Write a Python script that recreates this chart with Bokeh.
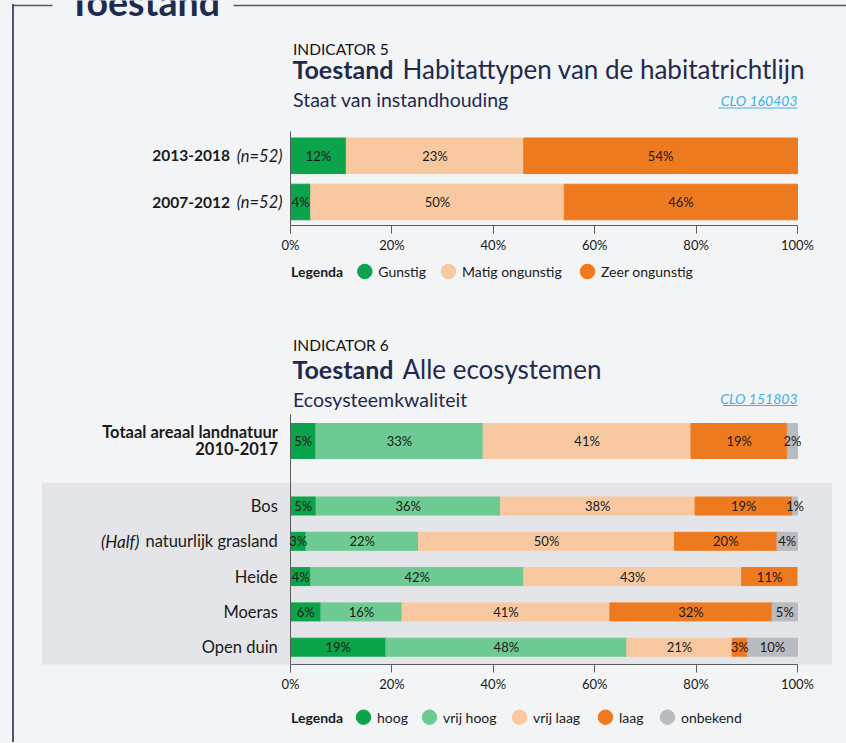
from bokeh.plotting import figure
from bokeh.models import Range1d, FixedTicker, PrintfTickFormatter, ColumnDataSource
from bokeh.layouts import column
from bokeh.core.properties import value
from bokeh.embed import file_html
from bokeh.resources import INLINE

# ---------------- data ----------------
pct_ticks = [0, 20, 40, 60, 80, 100]

# Indicator 5
periods = ["2013-2018", "2007-2012"]
period_n = ["(n=52)", "(n=52)"]
states = ["Gunstig", "Matig ongunstig", "Zeer ongunstig"]
gunstig = [11, 4]
matig_ongunstig = [35, 50]
zeer_ongunstig = [54, 46]
printed_gunstig = ["12%", "4%"]
printed_matig = ["23%", "50%"]
printed_zeer = ["54%", "46%"]

# Indicator 6
areas = ["Totaal areaal landnatuur\n2010-2017", "Bos", "(Half) natuurlijk grasland",
         "Heide", "Moeras", "Open duin"]
qualities = ["hoog", "vrij hoog", "vrij laag", "laag", "onbekend"]
hoog = [5, 5, 3, 4, 6, 19]
vrij_hoog = [33, 36, 22, 42, 16, 48]
vrij_laag = [41, 38, 50, 43, 41, 21]
laag = [19, 19, 20, 11, 32, 3]
onbekend = [2, 1, 4, 0, 5, 10]

# ---------------- styles ----------------
BG = "#f3f4f6"
BOX = "#e4e5e8"
NAVY = "#1f2a4f"
INK = "#1a1a1a"
FRAME = "#4d5473"
LINK = "#3fb0e6"
AXIS = "#5c5c5c"
COL1 = ["#0ca44b", "#f8c9a1", "#ee7a1f"]
COL2 = ["#0ca44b", "#6dca93", "#f8c9a1", "#ee7a1f", "#b8bbc0"]
FONT = "Lato"
MID = 0.37   # distance baseline -> text middle, in em

# ---------------- layout (page pixels) ----------------
OX = 0
W = 846
P0, P100 = 290.0, 797.0
SCALE = (P100 - P0) / 100.0
A_TOP, A_FRAME, A_BOT = 0, 225, 30
B_TOP, B_FRAME, B_BOT = 255, 409, 30
C_TOP, C_FRAME = 694, 48


def make_fig(top, frame_h, bottom_h, row0=None, step=None):
    x_rng = Range1d((OX - P0) / SCALE, (OX + W - P0) / SCALE)
    if step:
        y_rng = Range1d((top + frame_h - row0) / step, (top - row0) / step)
    else:
        y_rng = Range1d(top + frame_h, top)
    p = figure(width=W, height=frame_h + bottom_h, x_range=x_rng, y_range=y_rng,
               output_backend="svg", toolbar_location=None,
               x_axis_location="below" if bottom_h else None, y_axis_location=None,
               min_border=0, min_border_bottom=bottom_h,
               background_fill_color=None, border_fill_color=None,
               outline_line_color=None)
    p.extra_x_ranges = {"px": Range1d(OX, OX + W)}
    p.extra_y_ranges = {"px": Range1d(top + frame_h, top)}
    p.grid.visible = False
    if bottom_h:
        ax = p.xaxis[0]
        ax.bounds = (0, 100)
        ax.ticker = FixedTicker(ticks=pct_ticks)
        ax.formatter = PrintfTickFormatter(format="%d%%")
        ax.axis_line_color = AXIS
        ax.major_tick_line_color = AXIS
        ax.major_tick_out = 8
        ax.major_tick_in = 0
        ax.minor_tick_line_color = None
        ax.major_label_text_font = FONT
        ax.major_label_text_font_size = "13px"
        ax.major_label_text_color = INK
        ax.major_label_standoff = 3
    return p


def put(p, x, y, s, size, style="normal", color=INK, align="left",
        base="alphabetic", xr="px", yr="px"):
    if base == "alphabetic":
        y = y - MID * size
    p.text(x=[x], y=[y], text=[s], x_range_name=xr, y_range_name=yr,
           text_font=value(FONT), text_font_size=f"{size}px", text_font_style=style,
           text_color=color, text_align=align, text_baseline="middle")


def header(p, ind, bold, rest, sub, link, y_ind, y_title, y_sub, y_link, link_w):
    put(p, 292.5, y_ind, ind, 15.5, color="#111111")
    put(p, 292, y_title, bold, 25, style="bold", color=NAVY)
    put(p, 402, y_title, rest, 26, color=NAVY)
    put(p, 292.5, y_sub, sub, 19.5, color=NAVY)
    put(p, P100, y_link, link, 14, style="italic", color=LINK, align="right")
    p.segment(x0=[P100 - link_w], y0=[y_link + 2], x1=[P100], y1=[y_link + 2],
              x_range_name="px", y_range_name="px", line_color=LINK, line_width=1)


def legend(p, y, names, colors, cxs):
    put(p, 290.5, y, "Legenda", 14, style="bold", base="middle")
    p.scatter(x=cxs, y=[y] * len(cxs), size=14.5, color=colors, marker="circle",
              x_range_name="px", y_range_name="px")
    for cx, n in zip(cxs, names):
        put(p, cx + 13.5, y, n, 14, base="middle")


def bar_labels(p, rows, value_rows, label_rows):
    xs, ys, ts = [], [], []
    for r, vals, labs in zip(rows, value_rows, label_rows):
        left = 0.0
        for v, lab in zip(vals, labs):
            if v > 0:
                xs.append(left + v / 2.0)
                ys.append(r)
                ts.append(lab)
            left += v
    p.text(x=xs, y=ys, text=ts, text_font=value(FONT), text_font_size="13px",
           text_color=INK, text_align="center", text_baseline="middle")


# ---------------- figure A: frame title + indicator 5 ----------------
ROW1_0, ROW1_STEP = 155.3, 46.2
pA = make_fig(A_TOP, A_FRAME, A_BOT, ROW1_0, ROW1_STEP)
pA.segment(x0=[12.25, 233], y0=[5, 5], x1=[52, OX + W], y1=[5, 5],
           x_range_name="px", y_range_name="px", line_color=FRAME, line_width=1.5)
put(pA, 68, 15, "Toestand", 37.5, style="bold", color=NAVY)
header(pA, "INDICATOR 5", "Toestand", "Habitattypen van de habitatrichtlijn",
       "Staat van instandhouding", "CLO 160403", 54, 77.7, 106.7, 105.5, 79)

rows1 = list(range(len(periods)))
src1 = ColumnDataSource(dict(row=rows1, **{states[0]: gunstig, states[1]: matig_ongunstig,
                                          states[2]: zeer_ongunstig}))
pA.hbar_stack(states, y="row", height=0.77, color=COL1, source=src1)
pA.segment(x0=[0], y0=[131], x1=[0], y1=[225], y_range_name="px",
           line_color=AXIS, line_width=1)
bar_labels(pA, rows1, list(zip(gunstig, matig_ongunstig, zeer_ongunstig)),
           list(zip(printed_gunstig, printed_matig, printed_zeer)))
for r, per, n in zip(rows1, periods, period_n):
    put(pA, 282, r, n, 16.5, style="italic", align="right", base="middle", yr="default")
    put(pA, 229.5, r, per, 15.5, style="bold", align="right", base="middle", yr="default")

# ---------------- figure B: legend 5 + indicator 6 ----------------
ROW2_0, ROW2_STEP = 505.5, 35.3
TOTAL_ROW = (440.5 - ROW2_0) / ROW2_STEP
pB = make_fig(B_TOP, B_FRAME, B_BOT, ROW2_0, ROW2_STEP)
legend(pB, 271, states, COL1, [364.3, 448, 587])
header(pB, "INDICATOR 6", "Toestand", "Alle ecosystemen", "Ecosysteemkwaliteit",
       "CLO 151803", 350.7, 377.7, 406, 403, 74.5)
pB.quad(left=[42], right=[831], top=[482.7], bottom=[666], x_range_name="px",
        y_range_name="px", color=BOX)

raw2 = list(zip(hoog, vrij_hoog, vrij_laag, laag, onbekend))
norm2 = [[v * 100.0 / sum(r) for v in r] for r in raw2]
rows2 = [TOTAL_ROW] + list(range(len(areas) - 1))
heights2 = [0.99] + [0.51] * (len(areas) - 1)
cols2 = {q: [r[k] for r in norm2] for k, q in enumerate(qualities)}
src2 = ColumnDataSource(dict(row=rows2, h=heights2, **cols2))
pB.hbar_stack(qualities, y="row", height="h", color=COL2, source=src2)
pB.segment(x0=[0], y0=[414], x1=[0], y1=[664], y_range_name="px",
           line_color=AXIS, line_width=1)
bar_labels(pB, rows2, norm2, [[f"{v}%" for v in r] for r in raw2])

for r, name in zip(rows2, areas):
    if "\n" in name:
        l1, l2 = name.split("\n")
        put(pB, 277.5, 437.3, l1, 16.5, style="bold", align="right")
        put(pB, 277.5, 454.3, l2, 16.5, style="bold", align="right")
    elif name.startswith("("):
        it, rest = name.split(")", 1)
        put(pB, 277.3, r, rest.strip(), 16.5, align="right", base="middle", yr="default")
        put(pB, 139, r, it + ")", 17, style="italic", align="right", base="middle",
            yr="default")
    else:
        put(pB, 277.3, r, name, 16.5, align="right", base="middle", yr="default")

# ---------------- figure C: legend 6 ----------------
pC = make_fig(C_TOP, C_FRAME, 0)
legend(pC, 716.7, qualities, COL2, [363, 429, 519, 605, 667])

page = column(pA, pB, pC, styles={
    "background": f"linear-gradient(90deg, transparent 12.25px, {FRAME} 12.25px, "
                  f"{FRAME} 13.75px, transparent 13.75px) 0 4.25px / 100% 100% no-repeat, {BG}",
    "box-shadow": f"0 0 0 20px {BG}",
})

open("out.html", "w").write(file_html(page, INLINE))
